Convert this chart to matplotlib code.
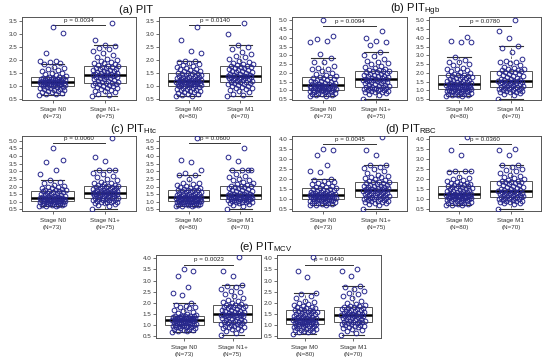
import numpy as np
import matplotlib.pyplot as plt

plt.rcParams['font.family'] = ['Liberation Sans', 'DejaVu Sans']

# values (sorted, one list per group)
pit_n0 = [0.65, 0.68, 0.7, 0.72, 0.74, 0.76, 0.79, 0.8, 0.83, 0.85, 0.86, 0.88, 0.9, 0.92, 0.94, 0.96, 0.97, 0.99,
          1.0, 1.01, 1.02, 1.03, 1.04, 1.05, 1.06, 1.07, 1.08, 1.09, 1.1, 1.11, 1.12, 1.12, 1.13, 1.14, 1.15, 1.15,
          1.16, 1.17, 1.18, 1.18, 1.19, 1.2, 1.21, 1.22, 1.23, 1.24, 1.25, 1.26, 1.27, 1.28, 1.29, 1.3, 1.31, 1.32,
          1.33, 1.36, 1.4, 1.44, 1.48, 1.5, 1.55, 1.6, 1.66, 1.7, 1.74, 1.82, 1.88, 1.92, 1.95, 1.97, 2.27, 3.02, 3.25]
pit_n1 = [0.6, 0.64, 0.7, 0.75, 0.78, 0.8, 0.84, 0.88, 0.9, 0.93, 0.96, 0.98, 1.0, 1.02, 1.04, 1.06, 1.08, 1.09,
          1.1, 1.1, 1.13, 1.16, 1.18, 1.2, 1.22, 1.25, 1.27, 1.29, 1.3, 1.32, 1.34, 1.35, 1.37, 1.38, 1.4, 1.4, 1.41,
          1.42, 1.43, 1.45, 1.46, 1.48, 1.5, 1.52, 1.54, 1.56, 1.58, 1.6, 1.62, 1.64, 1.66, 1.68, 1.7, 1.72, 1.74,
          1.75, 1.76, 1.8, 1.83, 1.86, 1.88, 1.9, 1.95, 2.0, 2.05, 2.1, 2.18, 2.25, 2.32, 2.4, 2.47, 2.52, 2.57,
          2.78, 3.42]
pit_m0 = [0.6, 0.62, 0.65, 0.68, 0.7, 0.72, 0.74, 0.76, 0.78, 0.8, 0.82, 0.84, 0.86, 0.88, 0.9, 0.92, 0.94, 0.96,
          0.98, 1.0, 1.0, 1.02, 1.03, 1.04, 1.05, 1.06, 1.07, 1.08, 1.09, 1.1, 1.11, 1.12, 1.13, 1.14, 1.15, 1.16,
          1.17, 1.18, 1.19, 1.2, 1.2, 1.22, 1.23, 1.24, 1.25, 1.26, 1.28, 1.29, 1.3, 1.32, 1.33, 1.35, 1.36, 1.38,
          1.4, 1.42, 1.44, 1.45, 1.47, 1.48, 1.49, 1.52, 1.55, 1.58, 1.6, 1.63, 1.66, 1.7, 1.72, 1.75, 1.8, 1.83,
          1.87, 1.9, 1.94, 1.97, 2.25, 2.33, 2.78, 3.25]
pit_m1 = [0.6, 0.65, 0.7, 0.75, 0.8, 0.84, 0.88, 0.9, 0.93, 0.96, 0.98, 1.0, 1.03, 1.05, 1.08, 1.1, 1.12,
          1.13, 1.14, 1.16, 1.18, 1.2, 1.22, 1.24, 1.25, 1.27, 1.29, 1.3, 1.31, 1.33, 1.34, 1.35, 1.36, 1.37,
          1.38, 1.39, 1.41, 1.43, 1.45, 1.47, 1.5, 1.52, 1.54, 1.56, 1.58, 1.6, 1.62, 1.65, 1.68, 1.7, 1.72,
          1.74, 1.76, 1.78, 1.8, 1.82, 1.85, 1.88, 1.92, 1.97, 2.02, 2.1, 2.15, 2.22, 2.3, 2.4, 2.48, 2.57, 3.0, 3.42]

hgb_n0 = [0.67, 0.7, 0.72, 0.75, 0.78, 0.8, 0.82, 0.85, 0.87, 0.89, 0.9, 0.92, 0.94, 0.96, 0.98, 1.0, 1.02, 1.04,
          1.05, 1.06, 1.07, 1.08, 1.1, 1.11, 1.12, 1.14, 1.15, 1.16, 1.18, 1.19, 1.2, 1.22, 1.23, 1.24, 1.25, 1.27,
          1.28, 1.3, 1.32, 1.34, 1.36, 1.38, 1.4, 1.43, 1.46, 1.5, 1.52, 1.55, 1.58, 1.62, 1.65, 1.7, 1.73, 1.76,
          1.78, 1.82, 1.87, 1.92, 2.0, 2.1, 2.2, 2.25, 2.3, 2.4, 2.6, 2.65, 2.87, 3.1, 3.75, 3.8, 3.95, 4.1, 5.0]
hgb_n1 = [0.52, 0.75, 0.8, 0.85, 0.88, 0.9, 0.93, 0.96, 0.98, 1.0, 1.02, 1.04, 1.06, 1.08, 1.1, 1.12, 1.14, 1.16,
          1.17, 1.18, 1.2, 1.23, 1.26, 1.3, 1.33, 1.36, 1.4, 1.43, 1.46, 1.5, 1.52, 1.54, 1.56, 1.58, 1.6, 1.61, 1.62,
          1.63, 1.65, 1.68, 1.7, 1.73, 1.76, 1.8, 1.82, 1.85, 1.88, 1.9, 1.93, 1.96, 2.0, 2.03, 2.06, 2.09, 2.12,
          2.13, 2.14, 2.18, 2.22, 2.28, 2.35, 2.42, 2.5, 2.55, 2.6, 2.7, 2.8, 2.95, 3.05, 3.18, 3.6, 3.75, 3.8,
          4.0, 4.4]
hgb_m0 = [0.67, 0.7, 0.72, 0.74, 0.76, 0.78, 0.8, 0.82, 0.84, 0.86, 0.88, 0.9, 0.92, 0.94, 0.96, 0.98, 1.0, 1.02,
          1.05, 1.07, 1.07, 1.08, 1.1, 1.11, 1.13, 1.14, 1.16, 1.18, 1.19, 1.2, 1.22, 1.24, 1.25, 1.27, 1.29, 1.3,
          1.32, 1.33, 1.35, 1.36, 1.36, 1.38, 1.4, 1.42, 1.45, 1.48, 1.5, 1.52, 1.55, 1.58, 1.6, 1.63, 1.66, 1.7,
          1.72, 1.75, 1.78, 1.8, 1.84, 1.86, 1.87, 1.9, 1.95, 2.0, 2.05, 2.1, 2.15, 2.2, 2.25, 2.3, 2.45, 2.5, 2.6,
          2.65, 2.75, 2.91, 3.75, 3.75, 3.85, 4.08]
hgb_m1 = [0.52, 0.75, 0.8, 0.85, 0.88, 0.9, 0.93, 0.96, 0.98, 1.0, 1.03, 1.05, 1.08, 1.1, 1.12, 1.14, 1.16,
          1.17, 1.18, 1.2, 1.23, 1.26, 1.29, 1.32, 1.35, 1.38, 1.4, 1.42, 1.44, 1.46, 1.48, 1.5, 1.51, 1.52,
          1.53, 1.54, 1.57, 1.6, 1.64, 1.68, 1.72, 1.76, 1.8, 1.84, 1.88, 1.92, 1.96, 2.0, 2.04, 2.08, 2.11,
          2.13, 2.14, 2.18, 2.2, 2.25, 2.3, 2.35, 2.45, 2.55, 2.6, 2.6, 2.7, 2.8, 3.2, 3.45, 3.56, 4.0, 4.4, 5.0]

htc_n0 = [0.7, 0.72, 0.74, 0.76, 0.78, 0.8, 0.82, 0.84, 0.86, 0.88, 0.9, 0.92, 0.94, 0.96, 0.98, 0.99, 1.0, 1.02,
          1.03, 1.05, 1.06, 1.08, 1.09, 1.1, 1.12, 1.13, 1.14, 1.16, 1.17, 1.18, 1.2, 1.21, 1.22, 1.24, 1.25, 1.26,
          1.27, 1.28, 1.3, 1.32, 1.34, 1.36, 1.38, 1.4, 1.43, 1.46, 1.5, 1.53, 1.56, 1.6, 1.63, 1.66, 1.68, 1.7,
          1.72, 1.75, 1.78, 1.8, 1.84, 1.88, 1.92, 1.96, 2.0, 2.05, 2.1, 2.2, 2.3, 2.45, 2.82, 3.1, 3.62, 3.75, 4.5]
htc_n1 = [0.55, 0.75, 0.8, 0.85, 0.9, 0.93, 0.96, 0.98, 1.0, 1.02, 1.05, 1.08, 1.1, 1.12, 1.14, 1.16, 1.18, 1.2,
          1.22, 1.22, 1.25, 1.28, 1.3, 1.33, 1.36, 1.39, 1.42, 1.44, 1.46, 1.48, 1.5, 1.52, 1.54, 1.56, 1.57, 1.58,
          1.59, 1.6, 1.62, 1.64, 1.66, 1.68, 1.7, 1.72, 1.75, 1.78, 1.8, 1.83, 1.86, 1.89, 1.92, 1.95, 1.98, 2.0,
          2.02, 2.03, 2.04, 2.08, 2.12, 2.16, 2.2, 2.25, 2.3, 2.4, 2.5, 2.6, 2.7, 2.8, 2.9, 3.05, 3.1, 3.1, 3.65,
          3.92, 5.15]
htc_m0 = [0.7, 0.72, 0.74, 0.76, 0.78, 0.8, 0.82, 0.84, 0.86, 0.88, 0.9, 0.92, 0.94, 0.96, 0.98, 1.0, 1.01, 1.02,
          1.04, 1.05, 1.05, 1.06, 1.08, 1.09, 1.1, 1.12, 1.13, 1.14, 1.16, 1.17, 1.18, 1.2, 1.21, 1.22, 1.24, 1.25,
          1.26, 1.28, 1.29, 1.3, 1.3, 1.32, 1.34, 1.36, 1.38, 1.4, 1.42, 1.44, 1.46, 1.48, 1.5, 1.53, 1.56, 1.6,
          1.63, 1.66, 1.7, 1.73, 1.75, 1.77, 1.78, 1.8, 1.84, 1.88, 1.92, 1.96, 2.0, 2.05, 2.1, 2.15, 2.2, 2.25,
          2.5, 2.72, 2.72, 2.9, 3.1, 3.6, 3.75, 5.15]
htc_m1 = [0.55, 0.75, 0.8, 0.85, 0.9, 0.93, 0.96, 0.98, 1.0, 1.02, 1.04, 1.06, 1.08, 1.1, 1.12, 1.14, 1.16,
          1.18, 1.18, 1.2, 1.22, 1.24, 1.26, 1.28, 1.3, 1.32, 1.34, 1.36, 1.38, 1.4, 1.42, 1.44, 1.45, 1.46,
          1.47, 1.48, 1.5, 1.53, 1.56, 1.6, 1.64, 1.68, 1.72, 1.76, 1.8, 1.84, 1.88, 1.92, 1.96, 2.0, 2.03,
          2.05, 2.06, 2.1, 2.15, 2.2, 2.3, 2.4, 2.45, 2.5, 2.6, 2.7, 2.8, 3.05, 3.1, 3.1, 3.1, 3.65, 3.9, 4.5]

rbc_n0 = [0.7, 0.72, 0.74, 0.76, 0.78, 0.8, 0.82, 0.84, 0.86, 0.88, 0.9, 0.91, 0.93, 0.94, 0.96, 0.97, 0.99, 1.0,
          1.02, 1.03, 1.04, 1.05, 1.06, 1.07, 1.08, 1.09, 1.1, 1.12, 1.13, 1.14, 1.15, 1.16, 1.17, 1.18, 1.2, 1.21,
          1.22, 1.23, 1.24, 1.25, 1.26, 1.28, 1.29, 1.3, 1.32, 1.34, 1.36, 1.38, 1.4, 1.42, 1.45, 1.48, 1.5, 1.53,
          1.55, 1.58, 1.6, 1.63, 1.66, 1.7, 1.75, 1.8, 1.82, 1.84, 1.9, 1.95, 2.02, 2.35, 2.42, 2.7, 3.2, 3.45, 3.5]
rbc_n1 = [0.53, 0.7, 0.75, 0.8, 0.83, 0.86, 0.88, 0.9, 0.92, 0.94, 0.96, 0.98, 1.0, 1.02, 1.04, 1.06, 1.08, 1.1,
          1.12, 1.12, 1.14, 1.16, 1.18, 1.2, 1.22, 1.24, 1.26, 1.28, 1.3, 1.32, 1.34, 1.36, 1.38, 1.4, 1.42, 1.43,
          1.44, 1.45, 1.47, 1.49, 1.51, 1.53, 1.55, 1.57, 1.6, 1.62, 1.64, 1.66, 1.68, 1.7, 1.73, 1.76, 1.79, 1.81,
          1.84, 1.85, 1.86, 1.9, 1.95, 2.0, 2.05, 2.1, 2.12, 2.15, 2.2, 2.3, 2.4, 2.5, 2.55, 2.62, 2.7, 2.72,
          3.22, 3.45, 4.08]
rbc_m0 = [0.7, 0.72, 0.74, 0.76, 0.78, 0.8, 0.82, 0.84, 0.86, 0.88, 0.9, 0.92, 0.94, 0.96, 0.98, 1.0, 1.02, 1.04,
          1.06, 1.07, 1.07, 1.08, 1.09, 1.1, 1.11, 1.12, 1.13, 1.14, 1.15, 1.16, 1.17, 1.18, 1.19, 1.2, 1.21, 1.22,
          1.23, 1.24, 1.24, 1.25, 1.25, 1.27, 1.29, 1.31, 1.33, 1.35, 1.37, 1.39, 1.41, 1.43, 1.45, 1.47, 1.5, 1.52,
          1.55, 1.57, 1.6, 1.62, 1.64, 1.65, 1.66, 1.7, 1.72, 1.75, 1.78, 1.8, 1.82, 1.85, 1.9, 1.95, 2.0, 2.05,
          2.1, 2.38, 2.4, 2.42, 2.42, 3.2, 3.45, 4.08]
rbc_m1 = [0.53, 0.75, 0.8, 0.83, 0.86, 0.88, 0.9, 0.92, 0.94, 0.96, 0.98, 1.0, 1.02, 1.04, 1.06, 1.08, 1.1,
          1.12, 1.12, 1.14, 1.16, 1.18, 1.2, 1.22, 1.24, 1.26, 1.28, 1.3, 1.32, 1.34, 1.35, 1.36, 1.38, 1.39,
          1.4, 1.41, 1.44, 1.47, 1.5, 1.53, 1.56, 1.6, 1.63, 1.66, 1.7, 1.73, 1.76, 1.79, 1.82, 1.84, 1.86,
          1.88, 1.89, 1.92, 1.96, 2.0, 2.05, 2.1, 2.15, 2.2, 2.3, 2.4, 2.45, 2.5, 2.6, 2.7, 2.72, 3.22, 3.45, 3.5]

mcv_n0 = [0.7, 0.72, 0.75, 0.78, 0.8, 0.82, 0.84, 0.86, 0.88, 0.9, 0.92, 0.93, 0.94, 0.96, 0.97, 0.98, 0.99, 1.0,
          1.02, 1.04, 1.06, 1.07, 1.08, 1.1, 1.11, 1.12, 1.14, 1.15, 1.16, 1.18, 1.19, 1.2, 1.21, 1.22, 1.23, 1.24,
          1.25, 1.26, 1.27, 1.28, 1.29, 1.3, 1.31, 1.32, 1.33, 1.34, 1.35, 1.36, 1.37, 1.38, 1.39, 1.4, 1.4, 1.41,
          1.42, 1.45, 1.5, 1.55, 1.6, 1.65, 1.7, 1.75, 1.8, 1.82, 1.85, 1.9, 1.98, 2.35, 2.42, 2.7, 3.2, 3.45, 3.5]
mcv_n1 = [0.55, 0.65, 0.72, 0.78, 0.82, 0.85, 0.88, 0.9, 0.93, 0.96, 0.98, 1.0, 1.02, 1.04, 1.06, 1.08, 1.1, 1.12,
          1.13, 1.13, 1.15, 1.18, 1.2, 1.23, 1.26, 1.29, 1.32, 1.35, 1.37, 1.39, 1.41, 1.42, 1.43, 1.44, 1.45, 1.46,
          1.47, 1.48, 1.5, 1.52, 1.54, 1.56, 1.58, 1.6, 1.62, 1.65, 1.68, 1.7, 1.72, 1.75, 1.78, 1.8, 1.82, 1.84,
          1.86, 1.88, 1.89, 1.92, 1.96, 2.0, 2.05, 2.1, 2.15, 2.2, 2.3, 2.4, 2.5, 2.55, 2.6, 2.7, 2.75, 2.8, 3.22,
          3.45, 4.08]
mcv_m0 = [0.62, 0.68, 0.7, 0.72, 0.74, 0.76, 0.78, 0.8, 0.82, 0.84, 0.86, 0.88, 0.9, 0.92, 0.94, 0.96, 0.98, 1.0,
          1.02, 1.03, 1.03, 1.04, 1.06, 1.07, 1.08, 1.1, 1.11, 1.12, 1.14, 1.15, 1.16, 1.18, 1.19, 1.2, 1.22, 1.23,
          1.24, 1.26, 1.27, 1.28, 1.28, 1.3, 1.32, 1.34, 1.36, 1.38, 1.4, 1.42, 1.44, 1.46, 1.48, 1.5, 1.52, 1.54,
          1.56, 1.58, 1.6, 1.62, 1.65, 1.67, 1.68, 1.7, 1.72, 1.75, 1.78, 1.8, 1.83, 1.86, 1.9, 1.95, 2.0, 2.05,
          2.1, 2.2, 2.3, 2.4, 2.45, 3.18, 3.45, 4.08]
mcv_m1 = [0.55, 0.65, 0.75, 0.8, 0.84, 0.88, 0.9, 0.93, 0.96, 0.98, 1.0, 1.02, 1.04, 1.06, 1.08, 1.1, 1.12,
          1.13, 1.14, 1.16, 1.18, 1.2, 1.23, 1.26, 1.29, 1.32, 1.34, 1.36, 1.38, 1.4, 1.41, 1.42, 1.43, 1.44,
          1.45, 1.46, 1.48, 1.5, 1.52, 1.54, 1.56, 1.58, 1.6, 1.62, 1.64, 1.66, 1.69, 1.72, 1.74, 1.76, 1.78,
          1.8, 1.81, 1.84, 1.88, 1.92, 1.96, 2.0, 2.1, 2.2, 2.3, 2.4, 2.45, 2.55, 2.62, 2.7, 2.75, 3.22, 3.45, 3.5]

n_labels = ['Stage N0\n(N=73)', 'Stage N1+\n(N=75)']
m_labels = ['Stage M0\n(N=80)', 'Stage M1\n(N=70)']

titles = ['(a) PIT', '(b) PIT$_{\\mathregular{Hgb}}$', '(c) PIT$_{\\mathregular{Htc}}$',
          '(d) PIT$_{\\mathregular{RBC}}$', '(e) PIT$_{\\mathregular{MCV}}$']
p_n = ['p = 0.0034', 'p = 0.0094', 'p = 0.0060', 'p = 0.0045', 'p = 0.0023']
p_m = ['p = 0.0140', 'p = 0.0780', 'p = 0.0600', 'p = 0.0360', 'p = 0.0440']

groups = [(pit_n0, pit_n1, pit_m0, pit_m1), (hgb_n0, hgb_n1, hgb_m0, hgb_m1),
          (htc_n0, htc_n1, htc_m0, htc_m1), (rbc_n0, rbc_n1, rbc_m0, rbc_m1),
          (mcv_n0, mcv_n1, mcv_m0, mcv_m1)]
ylims = [(0.45, 3.65), (0.45, 5.2), (0.4, 5.3), (0.42, 4.15), (0.42, 4.15)]
ytops = [3.5, 5.0, 5.0, 4.0, 4.0]
pbar = [3.33, 4.7, 4.85, 3.75, 3.72]

# panel boxes in pixels: left, top, right, bottom
boxes = [[(22, 17, 136, 100), (159, 17, 270, 100)],
         [(292, 17, 407, 100), (429, 17, 541, 100)],
         [(22, 136, 136, 211), (159, 136, 270, 211)],
         [(292, 136, 407, 211), (429, 136, 541, 211)],
         [(156, 255, 261, 338), (277, 255, 381, 338)]]
title_xy = [(136, 10), (415, 10), (133, 129), (411, 129), (266, 247)]

W, H = 550, 360
fig = plt.figure(figsize=(5.5, 3.6), dpi=100)
navy = '#26268c'
edge = '#555555'


def panel(rect, data, labels, ptxt, ylim, ytop, yp):
    l, t, r, b = rect
    ax = fig.add_axes([l / W, 1 - b / H, (r - l) / W, (b - t) / H])
    ax.boxplot(data, positions=[1, 2], widths=0.8, whis=1.5, showfliers=False,
               patch_artist=True, capwidths=0.45,
               boxprops=dict(facecolor='white', edgecolor=edge, linewidth=0.7),
               medianprops=dict(color='black', linewidth=1.8),
               whiskerprops=dict(color=edge, linewidth=0.6, linestyle=(0, (3, 2))),
               capprops=dict(color='#333333', linewidth=0.8))
    for k, vals in enumerate(data):
        v = np.asarray(vals)
        jit = ((np.arange(len(v)) * 0.618034) % 1 - 0.5) * 0.5
        ax.plot(k + 1 + jit, v, 'o', mfc='none', mec=navy, ms=3.4, mew=0.7, zorder=5)
    ax.plot([1, 2], [yp, yp], color='#333333', lw=0.7)
    ax.annotate(ptxt, (1.5, yp), xytext=(0, 1.5), textcoords='offset points',
                ha='center', va='bottom', fontsize=4.5, color='#222222')
    ax.set_xlim(0.42, 2.58)
    ax.set_ylim(*ylim)
    ax.set_yticks(np.arange(0.5, ytop + 0.01, 0.5))
    ax.set_yticklabels(['%.1f' % y for y in np.arange(0.5, ytop + 0.01, 0.5)])
    ax.set_xticks([1, 2])
    ax.set_xticklabels(labels, linespacing=1.4)
    ax.tick_params(labelsize=4.5, length=2, width=0.5, pad=1.5, colors='#333333')
    ax.tick_params(axis='x', pad=3)
    for s in ax.spines.values():
        s.set_color(edge)
        s.set_linewidth(0.7)


for i in range(5):
    d = groups[i]
    panel(boxes[i][0], [d[0], d[1]], n_labels, p_n[i], ylims[i], ytops[i], pbar[i])
    panel(boxes[i][1], [d[2], d[3]], m_labels, p_m[i], ylims[i], ytops[i], pbar[i])
    fig.text(title_xy[i][0] / W, 1 - title_xy[i][1] / H, titles[i], ha='center', va='center',
             fontsize=8, color='#111111')

fig.savefig('out.png', dpi=100)
